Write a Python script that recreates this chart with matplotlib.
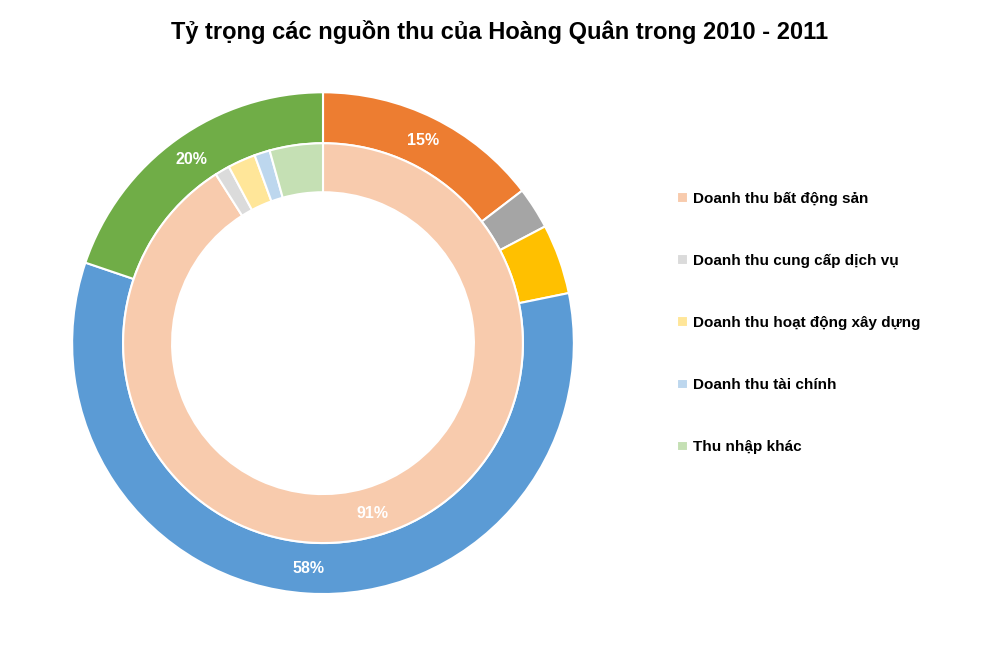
import matplotlib
matplotlib.use("Agg")
import matplotlib.pyplot as plt

plt.rcParams['font.family'] = ['Liberation Sans', 'DejaVu Sans']

# two rings: outer and inner, same five categories
categories = ["Doanh thu bất động sản", "Doanh thu cung cấp dịch vụ",
              "Doanh thu hoạt động xây dựng", "Doanh thu tài chính",
              "Thu nhập khác"]
outer_vals = [14.6, 2.7, 4.5, 58.4, 19.8]
inner_vals = [91.0, 1.2, 2.25, 1.25, 4.3]

outer_colors = ["#ED7D31", "#A5A5A5", "#FFC000", "#5B9BD5", "#70AD47"]
inner_colors = ["#F8CBAD", "#DBDBDB", "#FFE699", "#BDD7EE", "#C5E0B4"]


def pct(p):
    return f"{p:.0f}%" if p > 10 else ""


fig = plt.figure(figsize=(10, 6.55), dpi=100)
ax = fig.add_axes([0.072, 0.0931, 0.502, 0.766])

r_in = 200 / 251
w_out = 1 - r_in
w_in = (200 - 151) / 251

ax.pie(outer_vals, colors=outer_colors, radius=1, startangle=90,
       counterclock=False, autopct=pct, pctdistance=0.9,
       wedgeprops=dict(width=w_out, edgecolor="white", linewidth=1.5),
       textprops=dict(color="white", fontsize=11.5, fontweight="bold"))
inner_wedges, _, _ = ax.pie(inner_vals, colors=inner_colors, radius=r_in, startangle=90,
                            counterclock=False, autopct=pct, pctdistance=0.885,
                            wedgeprops=dict(width=w_in, edgecolor="white", linewidth=1.5),
                            textprops=dict(color="white", fontsize=11.5, fontweight="bold"))
ax.set_xlim(-1, 1)
ax.set_ylim(-1, 1)
ax.set_aspect("equal")

fig.text(0.5, 1 - 32 / 655, "Tỷ trọng các nguồn thu của Hoàng Quân trong 2010 - 2011",
         ha="center", va="center", fontsize=17, fontweight="bold", color="black")

leg = fig.legend(inner_wedges, categories, loc="center left",
                 bbox_to_anchor=(0.677, 1 - 323 / 655), frameon=False,
                 borderpad=0, borderaxespad=0, labelspacing=3.15,
                 handlelength=0.7, handleheight=0.7, handletextpad=0.35,
                 prop=dict(size=11, weight="bold"))
for t in leg.get_texts():
    t.set_color("black")

fig.savefig("out.png", dpi=100)
